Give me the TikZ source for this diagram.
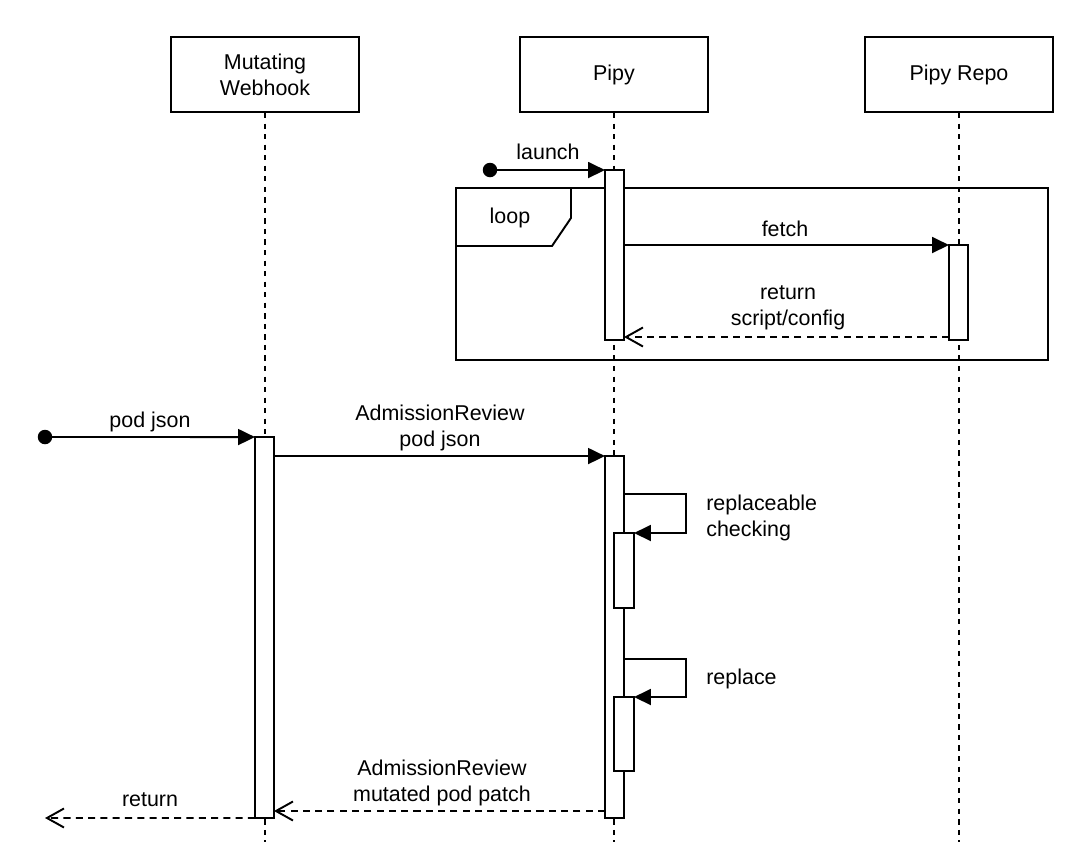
\documentclass[tikz,border=0pt]{standalone}
\usepackage{fontspec}
\setmainfont{Liberation Sans}
\usetikzlibrary{positioning}
\usetikzlibrary{arrows.meta}

\tikzset{
    lane/.style={draw, line width=1.1pt, minimum width=3.76cm, minimum height=1.5cm, align=center},
    life/.style={line width=1.1pt, dash pattern=on 3pt off 3pt},
    bar/.style={draw, fill=white, line width=1.1pt, minimum width=0.38cm, inner sep=0pt, outer sep=0pt},
    msg/.style={line width=1.1pt, -{Triangle[length=0.34cm,width=0.32cm]}},
    ret/.style={line width=1.1pt, dash pattern=on 4pt off 3pt, -{Straight Barb[length=0.34cm,width=0.38cm]}},
    dot/.style={circle, fill=black, minimum size=0.29cm, inner sep=0pt},
    txt/.style={align=center, inner sep=0pt}
}

\begin{document}
\begin{tikzpicture}[x=0.02cm, y=-0.02cm, line join=miter,
        font=\fontsize{12.2}{14.9}\selectfont]
        \useasboundingbox (0,0) rectangle (1080,863);

        \node[lane] (web) at (265,74.5) {Mutating\\Webhook};
        \node[lane] (pipy) at (614,74.5) {Pipy};
        \node[lane] (repo) at (959,74.5) {Pipy Repo};

        \draw[life] (web.south) -- (web.south |- 0,842);
        \draw[life] (pipy.south) -- (pipy.south |- 0,842);
        \draw[life] (repo.south) -- (repo.south |- 0,842);

        \draw[line width=1.1pt] (456,188) rectangle (1048,360);
        \draw[line width=1.1pt] (456,246) -- (552,246) -- (571,218) -- (571,188);
        \node[txt] (loop) at (510,218) {loop};

        \node[bar, minimum height=3.4cm] (pipyA) at (614.5,255) {};
        \node[bar, minimum height=1.9cm] (repoA) at (958.5,292.5) {};
        \node[bar, minimum height=7.62cm] (webA) at (264.5,627.5) {};
        \node[bar, minimum height=7.24cm] (pipyB) at (614.5,637) {};
        \node[bar, minimum width=0.4cm, minimum height=1.5cm] (checkA) at (624,570.5) {};
        \node[bar, minimum width=0.4cm, minimum height=1.48cm] (replA) at (624,734) {};

        \node[dot] (start1) at (490,170) {};
        \node[dot] (start2) at (45,437) {};
        \coordinate (out) at (45,818);

        \draw[msg] (start1.center) -- (pipyA.north west);
        \node[txt] (launch) at (548,152) {launch};

        \draw[msg] (pipyA.east |- repoA.north) -- (repoA.north west);
        \node[txt] (fetch) at (785,229) {fetch};

        \draw[ret] (repoA.west |- 0,337) -- (pipyA.east |- 0,337);
        \node[txt] (back) at (788,308) {return\\script/config};

        \draw[msg] (start2.center) -- (webA.north west);
        \node[txt] (podjson) at (150,422) {pod json};

        \draw[msg] (webA.east |- pipyB.north) -- (pipyB.north west);
        \node[txt] (review) at (440,428) {AdmissionReview\\pod json};

        \draw[msg] (pipyB.east |- 0,494) -- (686,494) -- (686,533) -- (checkA.north east);
        \node[txt, anchor=west, align=left] (check) at (706,518) {replaceable\\checking};

        \draw[msg] (pipyB.east |- 0,659) -- (686,659) -- (686,697) -- (replA.north east);
        \node[txt, anchor=west] (replace) at (706,679) {replace};

        \draw[ret] (pipyB.west |- 0,811) -- (webA.east |- 0,811);
        \node[txt] (patch) at (442,783) {AdmissionReview\\mutated pod patch};

        \draw[ret] (webA.south west) -- (out);
        \node[txt] (result) at (150,800) {return};
    \end{tikzpicture}
\end{document}
